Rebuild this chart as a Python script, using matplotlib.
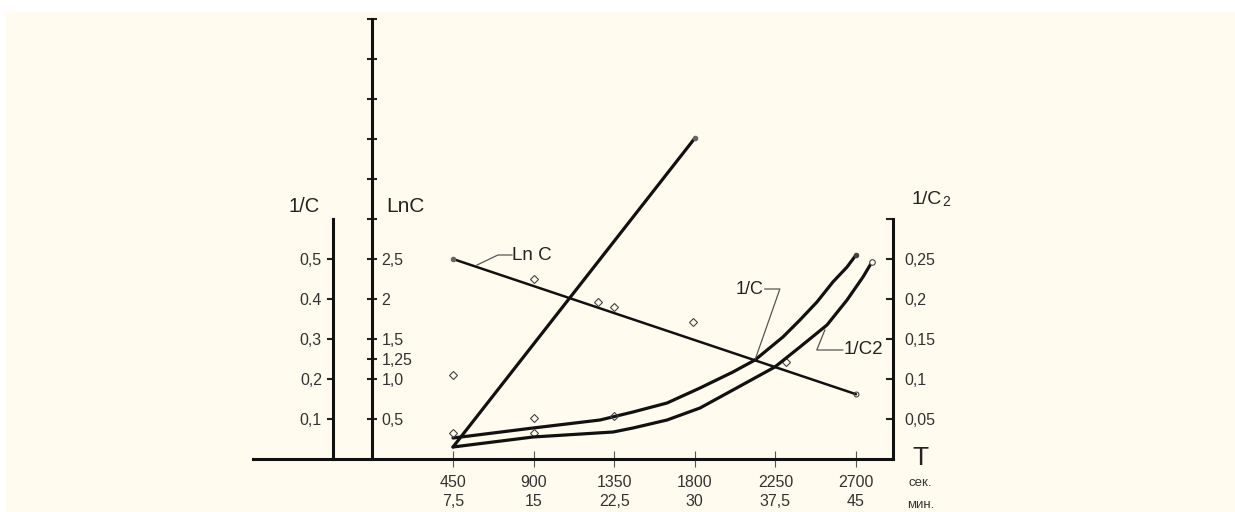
# Kinetics plot: 1/C, LnC and 1/C2 against time T (sec / min)
import matplotlib.pyplot as plt
from matplotlib.patches import Rectangle

plt.rcParams['font.family'] = ['Liberation Sans', 'DejaVu Sans']

# time axis
t_ticks = [450, 900, 1350, 1800, 2250, 2700]
t_sec = ['450', '900', '1350', '1800', '2250', '2700']
t_min = ['7,5', '15', '22,5', '30', '37,5', '45']

# vertical scales
inv_ticks = [0.1, 0.2, 0.3, 0.4, 0.5]
inv_labels = ['0,1', '0,2', '0,3', '0.4', '0,5']
ln_ticks = [0.5, 1.0, 1.25, 1.5, 2, 2.5, 3, 3.5, 4, 4.5, 5, 5.5]
ln_labels = ['0,5', '1,0', '1,25', '1,5', '2', '2,5', '', '', '', '', '', '']
inv2_ticks = [0.05, 0.1, 0.15, 0.2, 0.25, 0.3]
inv2_labels = ['0,05', '0,1', '0,15', '0,2', '0,25', '']

# Ln C line and the steep straight line (LnC scale)
lnc_t = [450, 2700]
lnc_v = [2.5, 0.81]
rise_t = [450, 1800]
rise_v = [0.15, 4.01]

# 1/C curve (1/C scale) and 1/C2 curve (1/C2 scale)
inv_t = [450, 897, 1271, 1455, 1645, 1829, 2013, 2136, 2292, 2387, 2482, 2571, 2650, 2700]
inv_v = [0.0525, 0.0775, 0.0975, 0.1175, 0.14, 0.1775, 0.2175, 0.2475, 0.305, 0.3475,
         0.3925, 0.4425, 0.48, 0.51]
inv2_t = [450, 897, 1344, 1455, 1645, 1829, 2013, 2247, 2387, 2538, 2650, 2739, 2789]
inv2_v = [0.015, 0.0275, 0.03375, 0.03875, 0.04875, 0.06375, 0.08625, 0.115, 0.14,
          0.1675, 0.19875, 0.2275, 0.24625]

# measured points
pts_inv_t = [450, 450, 900, 900, 1350, 2310]
pts_inv_v = [0.21, 0.065, 0.1025, 0.065, 0.1075, 0.2425]
pts_ln_t = [900, 1260, 1350, 1790]
pts_ln_v = [2.25, 1.96, 1.9, 1.71]

W, H = 1235, 512
x0_px = 372.4            # pixel of T = 0
px_per_s = 80.6 / 450
base_px = 459            # pixel row of the T axis
px_per_inv = 400         # pixels per unit of 1/C

fig = plt.figure(figsize=(W / 100, H / 100), dpi=100)
fig.patch.set_facecolor('white')
fig.add_artist(Rectangle((6 / W, 0), 1, (H - 12) / H, transform=fig.transFigure,
                         facecolor='#fffbee', edgecolor='none', zorder=-10))

ax = fig.add_axes([0, 0, 1, 1])
ax.set_facecolor('none')
ax.set_xlim(-x0_px / px_per_s, (W - x0_px) / px_per_s)
lo, hi = -(H - base_px) / px_per_inv, base_px / px_per_inv
ax.set_ylim(lo, hi)
ax2 = ax.twinx()
ax2.set_ylim(5 * lo, 5 * hi)
ax3 = ax.twinx()
ax3.set_ylim(0.5 * lo, 0.5 * hi)

for a in (ax, ax2, ax3):
    for s in a.spines.values():
        s.set_visible(False)
        s.set_linewidth(2.2)
        s.set_color('#111')

ax.spines['left'].set_visible(True)
ax.spines['left'].set_position(('data', -220))
ax.spines['left'].set_bounds(0, 0.6)
ax.spines['bottom'].set_visible(True)
ax.spines['bottom'].set_position(('data', 0))
ax.spines['bottom'].set_bounds(-667, 2906)
ax2.spines['right'].set_visible(True)
ax2.spines['right'].set_position(('data', 0))
ax2.spines['right'].set_bounds(0, 5.5)
ax3.spines['right'].set_visible(True)
ax3.spines['right'].set_position(('data', 2906))
ax3.spines['right'].set_bounds(0, 0.3)

lab_col = '#333'
ax.set_yticks(inv_ticks, inv_labels)
ax.tick_params(axis='y', direction='out', length=4.5, width=1.5, pad=3.5,
               labelsize=11.5, labelcolor=lab_col, color='#222')
ax.set_xticks(t_ticks, [f'{s}\n{m}' for s, m in zip(t_sec, t_min)])
ax.tick_params(axis='x', direction='inout', length=11, width=0.8, pad=6,
               labelsize=11.5, labelcolor=lab_col, color='#555')
for lab in ax.get_xticklabels():
    lab.set_linespacing(1.3)
ax2.set_yticks(ln_ticks, ln_labels)
ax2.tick_params(axis='y', direction='inout', length=7, width=1.5, pad=3,
                labelsize=11.5, labelcolor=lab_col, color='#222')
ax3.set_yticks(inv2_ticks, inv2_labels)
ax3.tick_params(axis='y', direction='in', length=5, width=1.5, pad=8,
                labelsize=11.5, labelcolor=lab_col, color='#222')

lw = 2.3
ax2.plot(lnc_t, lnc_v, color='#111', lw=1.8, solid_capstyle='round')
ax2.plot(rise_t, rise_v, color='#111', lw=lw, solid_capstyle='round')
ax.plot(inv_t, inv_v, color='#111', lw=lw, solid_capstyle='round', solid_joinstyle='round')
ax3.plot(inv2_t, inv2_v, color='#111', lw=lw, solid_capstyle='round', solid_joinstyle='round')

mk = dict(marker='D', ms=3.6, mfc='none', mec='#444', mew=0.8, ls='none')
ax.plot(pts_inv_t, pts_inv_v, **mk)
ax2.plot(pts_ln_t, pts_ln_v, **mk)
ax2.plot([rise_t[-1], lnc_t[0]], [rise_v[-1], lnc_v[0]], 'o', ms=3, color='#666')
ax2.plot(lnc_t[-1], lnc_v[-1], 'o', ms=3.5, mfc='none', mec='#444', mew=0.8)
ax.plot(inv_t[-1], inv_v[-1], 'o', ms=3, color='#444')
ax3.plot(inv2_t[-1], inv2_v[-1], 'o', ms=4, mfc='#fffbee', mec='#444', mew=0.8)

# curve labels with leader lines
lead = dict(color='#555', lw=0.9)
ax2.plot([584, 701, 779], [2.425, 2.55, 2.55], **lead)
ax2.text(782, 2.55, 'Ln C', ha='left', va='center', fontsize=13.5, color='#222')
ax.plot([2191, 2275, 2136], [0.425, 0.425, 0.2475], **lead)
ax.text(2186, 0.425, '1/C', ha='right', va='center', fontsize=13, color='#222')
ax.plot([2526, 2481, 2626], [0.3225, 0.2725, 0.2725], **lead)
ax.text(2632, 0.2725, '1/C2', ha='left', va='center', fontsize=13.5, color='#222')

# axis titles
ax.text(-382, 0.63, '1/C', ha='center', va='center', fontsize=14.5, color='#222')
ax.text(76, 0.63, 'LnC', ha='left', va='center', fontsize=15, color='#222')
t1 = ax.text(3012, 0.6475, '1/C', ha='left', va='center', fontsize=14, color='#222')
ax.annotate('2', xy=(1, 0), xycoords=t1, xytext=(0.3, 0), textcoords='offset points',
            ha='left', va='bottom', fontsize=10, color='#222')
ax.text(3057, 0.0025, 'T', ha='center', va='center', fontsize=19, color='#222')
ax.text(3060, -0.06, 'сек.', ha='center', va='center', fontsize=9.5, color='#333')
ax.text(3060, -0.115, 'мин.', ha='center', va='center', fontsize=9.5, color='#333')

fig.savefig('out.png', dpi=100)
